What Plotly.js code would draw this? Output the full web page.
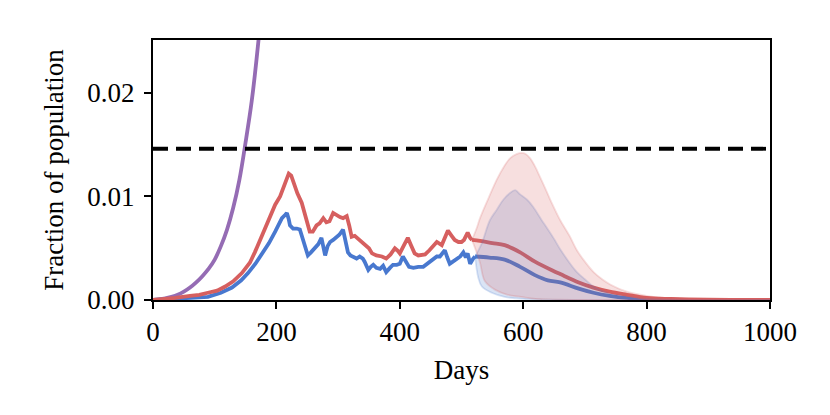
<!DOCTYPE html>
<html>
<head>
<meta charset="utf-8">
<script src="https://cdn.plot.ly/plotly-3.0.1.min.js"></script>
<style>
  html, body { margin: 0; padding: 0; background: #fff; }
  #chart { width: 830px; height: 415px; }
</style>
</head>
<body>
<div id="chart"></div>
<script>
// observed curves
const redDays = [0, 20, 36, 60, 75, 89, 104, 117, 130, 144, 157, 165, 173, 181, 190, 198, 206, 214, 220, 224, 228, 234, 241, 247, 254, 259, 265, 270, 276, 281, 286, 292, 297, 303, 308, 314, 318, 322, 327, 333, 338, 344, 350, 355, 362, 371, 378, 385, 392, 396, 400, 406, 413, 418, 424, 430, 441, 448, 455, 460, 468, 473, 478, 484, 489, 495, 500, 504, 510, 514, 517];
const redObs = [0.0000, 0.0001, 0.0002, 0.0004, 0.0005, 0.0007, 0.0009, 0.0013, 0.0018, 0.0026, 0.0036, 0.0046, 0.0057, 0.0068, 0.0080, 0.0092, 0.0100, 0.0113, 0.0122, 0.0120, 0.0113, 0.0103, 0.0094, 0.0082, 0.0066, 0.0066, 0.0072, 0.0074, 0.0079, 0.0075, 0.0076, 0.0084, 0.0082, 0.0080, 0.0079, 0.0081, 0.0072, 0.0061, 0.0062, 0.0059, 0.0056, 0.0053, 0.0050, 0.0045, 0.0043, 0.0042, 0.0040, 0.0044, 0.0050, 0.0048, 0.0045, 0.0052, 0.0060, 0.0053, 0.0045, 0.0043, 0.0044, 0.0048, 0.0053, 0.0056, 0.0053, 0.0060, 0.0067, 0.0062, 0.0058, 0.0056, 0.0056, 0.0058, 0.0065, 0.0060, 0.0058];

const blueDays = [0, 40, 70, 89, 110, 128, 143, 154, 166, 177, 188, 198, 204, 209, 214, 217, 220, 222, 227, 233, 238, 243, 246, 251, 256, 262, 268, 273, 276, 279, 283, 287, 292, 297, 302, 308, 312, 316, 320, 324, 330, 335, 340, 343, 349, 353, 357, 362, 368, 373, 378, 384, 389, 395, 400, 405, 410, 415, 422, 430, 438, 446, 454, 460, 465, 470, 473, 477, 481, 486, 492, 498, 503, 507, 510, 514, 519, 522];
const blueObs = [0.0000, 0.0001, 0.0002, 0.0003, 0.0007, 0.0012, 0.0019, 0.0026, 0.0035, 0.0045, 0.0055, 0.0066, 0.0073, 0.0079, 0.0082, 0.0084, 0.0078, 0.0072, 0.0069, 0.0069, 0.0068, 0.0058, 0.0050, 0.0043, 0.0046, 0.0050, 0.0054, 0.0060, 0.0052, 0.0043, 0.0052, 0.0056, 0.0058, 0.0060, 0.0063, 0.0068, 0.0058, 0.0046, 0.0043, 0.0042, 0.0040, 0.0042, 0.0040, 0.0037, 0.0029, 0.0032, 0.0034, 0.0031, 0.0030, 0.0033, 0.0027, 0.0031, 0.0034, 0.0034, 0.0035, 0.0042, 0.0037, 0.0032, 0.0031, 0.0032, 0.0032, 0.0036, 0.0040, 0.0042, 0.0042, 0.0046, 0.0048, 0.0041, 0.0035, 0.0037, 0.0040, 0.0042, 0.0046, 0.0041, 0.0045, 0.0035, 0.0040, 0.0042];

// forecast medians
const redFcDays = [517, 530, 550, 570, 595, 619, 649, 660, 690, 714, 740, 768, 800, 840, 900, 1000];
const redFcMed = [0.0058, 0.0057, 0.0055, 0.0053, 0.0046, 0.0037, 0.0028, 0.0025, 0.0017, 0.0012, 0.0008, 0.0005, 0.0002, 0.0001, 0.00003, 0.00001];
const blueFcDays = [522, 545, 570, 595, 619, 640, 660, 690, 714, 740, 768, 800, 850, 1000];
const blueFcMed = [0.0042, 0.0041, 0.0039, 0.0032, 0.0024, 0.0019, 0.0017, 0.0011, 0.0007, 0.0004, 0.0002, 0.0001, 0.00002, 0.0];

// forecast bands
const redHiDays = [517, 525, 530, 545, 557, 568, 579, 590, 597, 604, 611, 620, 627, 637, 646, 660, 675, 687, 700, 714, 728, 741, 768, 800, 830, 870, 920, 1000];
const redHi = [0.0058, 0.0070, 0.0079, 0.0100, 0.0116, 0.0128, 0.0137, 0.0141, 0.0142, 0.0141, 0.0137, 0.0128, 0.0119, 0.0106, 0.0094, 0.0077, 0.0062, 0.0048, 0.0037, 0.0027, 0.0020, 0.0015, 0.0008, 0.0004, 0.0002, 0.0001, 0.00003, 0.0];
const redLoDays = [517, 525, 530, 538, 554, 575, 597, 620, 660, 1000];
const redLo = [0.0058, 0.0045, 0.0036, 0.0018, 0.0010, 0.0005, 0.0003, 0.0001, 0.00003, 0.0];

const blueHiDays = [522, 533, 546, 557, 568, 578, 587, 595, 606, 616, 630, 638, 650, 660, 675, 687, 700, 714, 740, 768, 800, 1000];
const blueHi = [0.0042, 0.0055, 0.0077, 0.0087, 0.0097, 0.0103, 0.0106, 0.0102, 0.0097, 0.0090, 0.0077, 0.0070, 0.0059, 0.0049, 0.0036, 0.0027, 0.0020, 0.0013, 0.0006, 0.0003, 0.0001, 0.0];
const blueLoDays = [522, 527, 533, 549, 570, 600, 1000];
const blueLo = [0.0042, 0.0022, 0.0013, 0.0007, 0.0003, 0.0001, 0.0];

// unmitigated curve
const purpleDays = [0, 10, 20, 30, 40, 50, 60, 70, 80, 90, 100, 110, 120, 130, 140, 150, 160, 170, 180];
const purpleVals = [0.0, 0.00005, 0.00015, 0.0003, 0.0005, 0.0008, 0.0012, 0.0017, 0.0023, 0.0030, 0.0039, 0.0052, 0.0068, 0.0089, 0.0116, 0.0152, 0.0192, 0.0245, 0.031];

// capacity threshold
const capacity = 0.0146;
const xMax = 1000;

const BLUE = '#4878cf';
const RED = '#d65f5f';
const PURPLE = '#956cb4';
const BLUE_A = 'rgba(72,120,207,0.2)';
const RED_A = 'rgba(214,95,95,0.2)';

const font = "'Liberation Serif', 'DejaVu Serif', serif";
const LW = 3.8;

const data = [
    {x: purpleDays, y: purpleVals, mode: 'lines', line: {color: PURPLE, width: LW, shape: 'spline'}},
    {x: [0, xMax], y: [capacity, capacity], mode: 'lines', line: {color: 'black', width: LW, dash: '15px,8px'}},
    {x: blueDays, y: blueObs, mode: 'lines', line: {color: BLUE, width: LW}},
    {x: redDays, y: redObs, mode: 'lines', line: {color: RED, width: LW}},
    {x: blueFcDays, y: blueFcMed, mode: 'lines', line: {color: BLUE, width: LW, shape: 'spline'}},
    {x: redFcDays, y: redFcMed, mode: 'lines', line: {color: RED, width: LW, shape: 'spline'}},
    {x: blueLoDays, y: blueLo, mode: 'lines', line: {color: BLUE_A, width: 1.8, shape: 'spline'}},
    {x: blueHiDays, y: blueHi, mode: 'lines', fill: 'tonexty', fillcolor: BLUE_A, line: {color: BLUE_A, width: 1.8, shape: 'spline'}},
    {x: redLoDays, y: redLo, mode: 'lines', line: {color: RED_A, width: 1.8, shape: 'spline'}},
    {x: redHiDays, y: redHi, mode: 'lines', fill: 'tonexty', fillcolor: RED_A, line: {color: RED_A, width: 1.8, shape: 'spline'}}
];

const layout = {
    width: 830,
    height: 415,
    margin: {l: 153, r: 60, t: 40, b: 115},
    showlegend: false,
    paper_bgcolor: 'white',
    plot_bgcolor: 'white',
    font: {family: font, size: 27, color: 'black'},
    xaxis: {
        range: [0, xMax],
        tickvals: [0, 200, 400, 600, 800, 1000],
        ticks: 'outside', ticklen: 7, tickwidth: 2, tickcolor: 'black',
        showline: true, linewidth: 2, linecolor: 'black', mirror: true,
        showgrid: false, zeroline: false,
        title: {text: 'Days', font: {family: font, size: 27}, standoff: 14}
    },
    yaxis: {
        range: [0, 0.0251],
        tickvals: [0, 0.01, 0.02],
        tickformat: '.2f',
        ticks: 'outside', ticklen: 7, tickwidth: 2, tickcolor: 'black',
        ticklabelstandoff: 4,
        showline: true, linewidth: 2, linecolor: 'black', mirror: true,
        showgrid: false, zeroline: false,
        title: {text: 'Fraction of population', font: {family: font, size: 27}, standoff: 16}
    }
};

Plotly.newPlot('chart', data, layout, {displayModeBar: false, staticPlot: true});
</script>
</body>
</html>
